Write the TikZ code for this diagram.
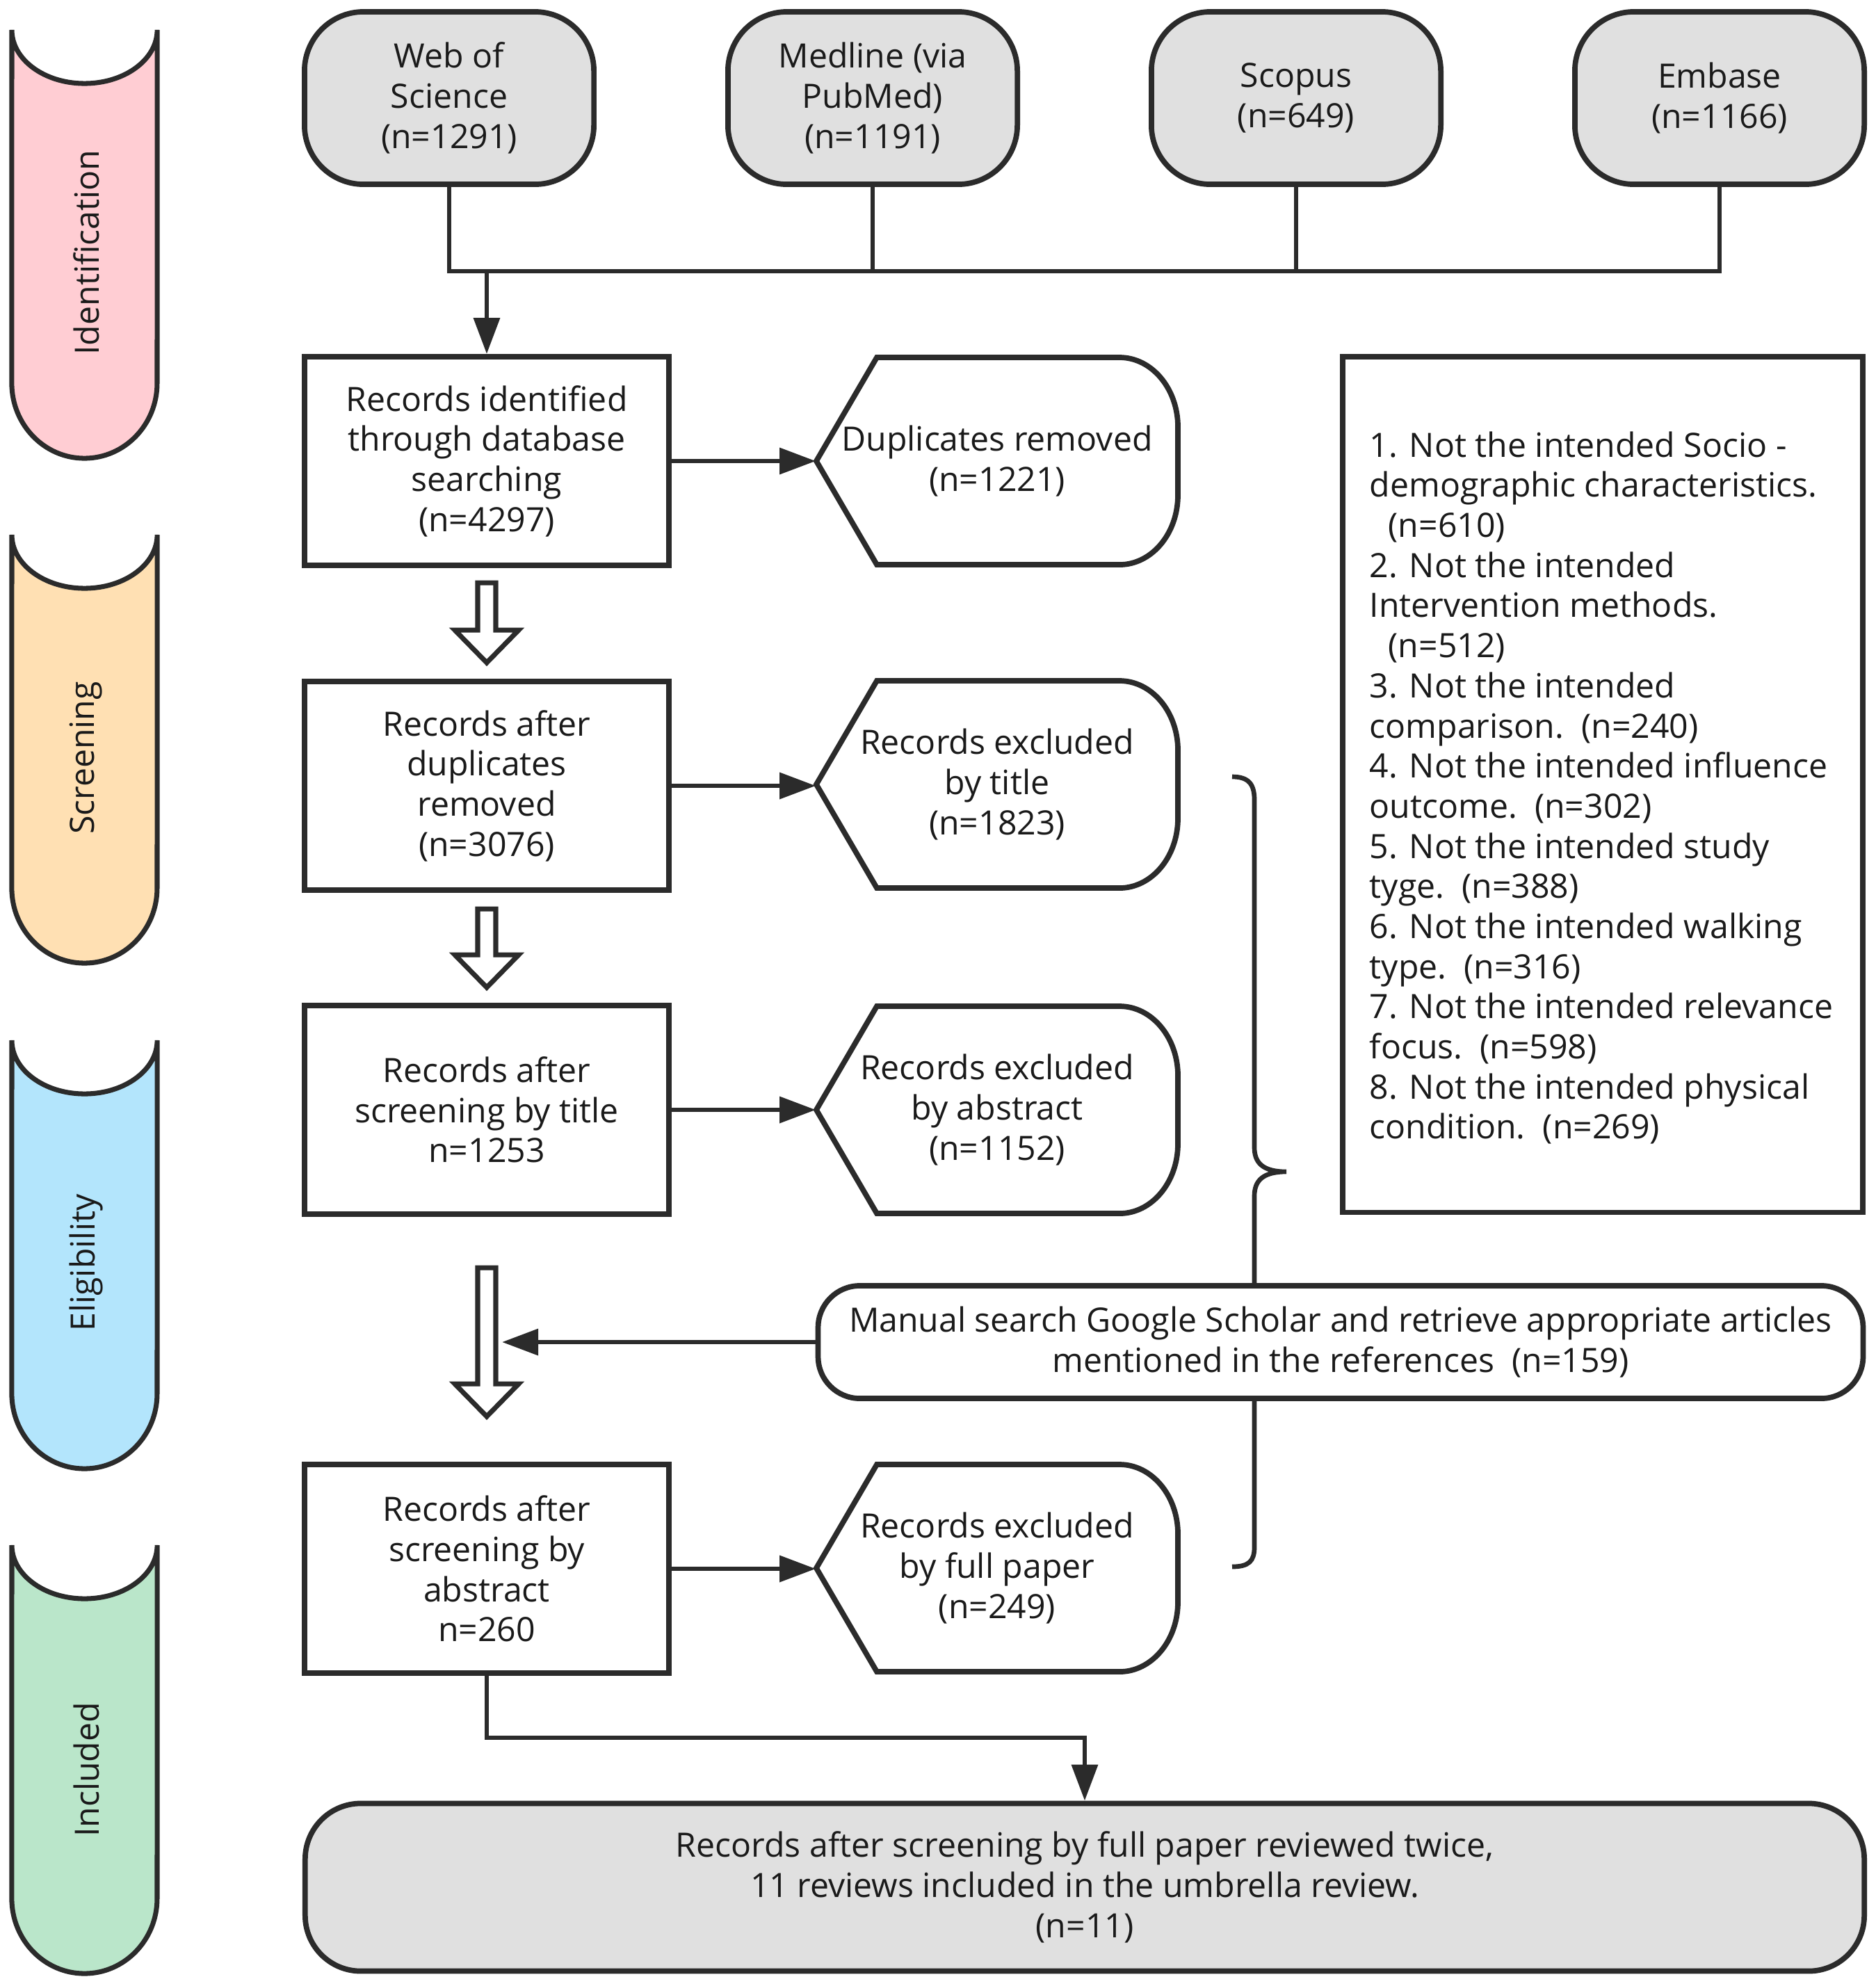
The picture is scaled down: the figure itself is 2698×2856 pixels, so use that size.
\documentclass[tikz,border=0pt]{standalone}
\usepackage{fontspec}
\setmainfont{Open Sans}
\usetikzlibrary{arrows.meta}
\definecolor{lc}{HTML}{2B2B2B}
\definecolor{tc}{HTML}{1A1A1A}
\definecolor{grayfill}{HTML}{E0E0E0}
\definecolor{pinkb}{HTML}{FFCDD3}
\definecolor{peachb}{HTML}{FFE0B3}
\definecolor{blueb}{HTML}{B3E5FC}
\definecolor{greenb}{HTML}{BAE6CA}
\newcommand\fs{\fontsize{13.7pt}{16.4pt}\selectfont}
\newcommand\exshape[2]{\draw[shapeline, fill=white] (#1-260,#2) -- (#1-173,#2+149) -- (#1+176,#2+149) arc[start angle=90,end angle=0,x radius=0.84cm,y radius=1cm] -- (#1+260,#2-49) arc[start angle=0,end angle=-90,x radius=0.84cm,y radius=1cm] -- (#1-173,#2-149) -- cycle;}
\newcommand\hollowarrow[3]{\draw[hollow] (#1-13,-#2) -- (#1+13,-#2) -- (#1+13,-#3+47) -- (#1+46,-#3+47) -- (#1,-#3) -- (#1-46,-#3+47) -- (#1-13,-#3+47) -- cycle;}
\newcommand\bannershape[3]{\draw[banner, fill=#3] (17,-#1) arc[start angle=180,end angle=360,x radius=1.045cm,y radius=0.77cm] -- (226,-#2+108) arc[start angle=0,end angle=-180,x radius=1.045cm,y radius=1.08cm] -- cycle;}
\begin{document}
\begin{tikzpicture}[x=0.01cm,y=0.01cm,
 shapeline/.style={draw=lc, line width=2.2pt},
 conn/.style={draw=lc, line width=1.9pt},
 arr/.style={conn, -{Triangle[length=0.52cm,width=0.37cm]}},
 txt/.style={font=\fs, text=tc, align=center, inner sep=0pt, execute at begin node={\rule{0pt}{13pt}}},
 dbnode/.style={txt, shapeline, fill=grayfill, rounded corners=0.85cm, minimum width=4.16cm, minimum height=2.48cm},
 mainbox/.style={txt, shapeline, fill=white, minimum width=5.24cm, minimum height=3cm},
 exnode/.style={txt, minimum width=5.2cm, minimum height=2.98cm},
 hollow/.style={draw=lc, line width=2pt, fill=white, line join=miter},
 banner/.style={draw=lc, line width=2pt},
 bannertxt/.style={font=\fs, text=tc, rotate=90, inner sep=0pt},
]
\useasboundingbox (0,0) rectangle (2698,-2856);
\fill[white] (0,0) rectangle (2698,-2856);

% stage banners
\bannershape{43}{659}{pinkb}
\node[bannertxt] (lid) at (124,-363) {Identification};
\bannershape{769}{1385}{peachb}
\node[bannertxt] (lsc) at (124,-1090) {Screening};
\bannershape{1496}{2112}{blueb}
\node[bannertxt] (lel) at (124,-1816) {Eligibility};
\bannershape{2222}{2838}{greenb}
\node[bannertxt] (lin) at (124,-2545) {Included};

% databases
\node[dbnode] (wos) at (646,-141) {Web of\\Science\\(n=1291)};
\node[dbnode] (med) at (1255,-141) {Medline (via\\PubMed)\\(n=1191)};
\node[dbnode] (sco) at (1864,-141) {Scopus\\(n=649)};
\node[dbnode] (emb) at (2473,-141) {Embase\\(n=1166)};

% main column
\node[mainbox] (box1) at (700,-663) {Records identified\\through database\\searching\\(n=4297)};
\node[mainbox] (box2) at (700,-1130) {Records after\\duplicates\\removed\\(n=3076)};
\node[mainbox] (box3) at (700,-1596) {Records after\\screening by title\\n=1253};
\node[mainbox] (box4) at (700,-2256) {Records after\\screening by\\abstract\\n=260};

% exclusion nodes
\exshape{1434}{-663}
\node[exnode] (ex1) at (1434,-663) {Duplicates removed\\(n=1221)};
\exshape{1434}{-1128}
\node[exnode] (ex2) at (1434,-1128) {Records excluded\\by title\\(n=1823)};
\exshape{1434}{-1596}
\node[exnode] (ex3) at (1434,-1596) {Records excluded\\by abstract\\(n=1152)};
\exshape{1434}{-2255}
\node[exnode] (ex4) at (1434,-2255) {Records excluded\\by full paper\\(n=249)};

% criteria box
\node[shapeline, minimum width=7.47cm, minimum height=12.3cm, inner sep=0pt] (crit) at (2305,-1128) {};
\node[font=\fs, text=tc, align=left, inner sep=0pt, anchor=west] (crittxt) at (1969,-1133) {1. Not the intended Socio -\\demographic characteristics.\\\hspace*{0.27cm}(n=610)\\2. Not the intended\\Intervention methods.\\\hspace*{0.27cm}(n=512)\\3. Not the intended\\comparison.\ \ (n=240)\\4. Not the intended influence\\outcome.\ \ (n=302)\\5. Not the intended study\\tyge.\ \ (n=388)\\6. Not the intended walking\\type.\ \ (n=316)\\7. Not the intended relevance\\focus.\ \ (n=598)\\8. Not the intended physical\\condition.\ \ (n=269)};

% brace
\coordinate (bracetop) at (1772,-1117);
\coordinate (bracetip) at (1850,-1685);
\coordinate (bracebot) at (1772,-2253);
\draw[conn] (bracetop) .. controls (1796,-1117) and (1804,-1128) .. (1804,-1150) -- (1804,-1650) .. controls (1804,-1672) and (1816,-1685) .. (bracetip) .. controls (1816,-1685) and (1804,-1698) .. (1804,-1720) -- (1804,-2225) .. controls (1804,-2245) and (1796,-2253) .. (bracebot);

% manual search
\node[txt, shapeline, fill=white, rounded corners=0.6cm, minimum width=15.02cm, minimum height=1.62cm] (manual) at (1928,-1930) {Manual search Google Scholar and retrieve appropriate articles\\mentioned in the references\ \ (n=159)};

% final
\node[txt, shapeline, fill=grayfill, rounded corners=0.8cm, minimum width=22.41cm, minimum height=2.41cm] (final) at (1560,-2714) {Records after screening by full paper reviewed twice,\\11 reviews included in the umbrella review.\\(n=11)};

% hollow arrows
\hollowarrow{700}{838}{953}
\hollowarrow{700}{1307}{1420}
\hollowarrow{700}{1823}{2037}

% connectors
\coordinate (bus) at (0,-390);
\draw[conn] (wos.south) |- (bus -| emb.south) -- (emb.south);
\draw[conn] (med.south) -- (med.south |- bus);
\draw[conn] (sco.south) -- (sco.south |- bus);
\draw[arr] (box1.north |- bus) -- (box1.north);

\draw[arr] (box1.east) -- (ex1.west);
\draw[arr] (box2.east) -- (box2.east -| ex2.west);
\draw[arr] (box3.east) -- (ex3.west);
\draw[arr] (box4.east) -- (box4.east -| ex4.west);

\coordinate (shaft) at (722,-1930);
\draw[arr] (manual.west) -- (shaft);

\coordinate (elbow) at (0,-2499);
\draw[arr] (box4.south) |- (elbow -| final.north) -- (final.north);
\end{tikzpicture}
\end{document}
